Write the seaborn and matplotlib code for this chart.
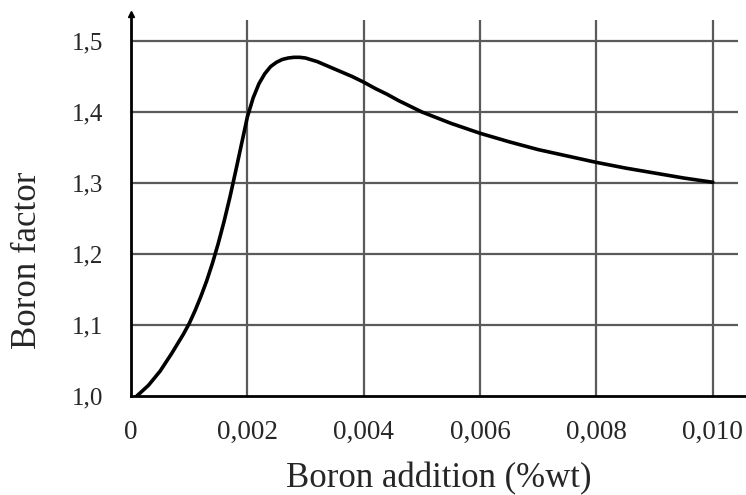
import matplotlib
matplotlib.use("Agg")
import matplotlib.pyplot as plt
import seaborn as sns

# Curve (boron addition in %wt vs boron factor)
boron_pct = [0.0001, 0.0003, 0.0005, 0.0007, 0.0009, 0.0010, 0.0011, 0.0012,
             0.0013, 0.0014, 0.0015, 0.0016, 0.0017, 0.0018, 0.0019, 0.0020,
             0.0021, 0.0022, 0.0023, 0.0024, 0.0025, 0.0026, 0.0027, 0.0028,
             0.0029, 0.0030, 0.0032, 0.0034, 0.0036, 0.0038, 0.0040, 0.0042,
             0.0044, 0.0046, 0.0048, 0.0050, 0.0055, 0.0060, 0.0065, 0.0070,
             0.0075, 0.0080, 0.0085, 0.0090, 0.0095, 0.0100]
boron_factor = [1.000, 1.015, 1.035, 1.060, 1.087, 1.102, 1.120, 1.140,
                1.162, 1.187, 1.215, 1.246, 1.280, 1.317, 1.355, 1.393,
                1.420, 1.440, 1.454, 1.464, 1.470, 1.474, 1.476, 1.477,
                1.477, 1.476, 1.471, 1.464, 1.457, 1.450, 1.442, 1.433,
                1.425, 1.416, 1.408, 1.400, 1.384, 1.370, 1.358, 1.347,
                1.338, 1.329, 1.321, 1.314, 1.307, 1.301]

x_ticks = [0, 0.002, 0.004, 0.006, 0.008, 0.010]
x_tick_labels = ["0", "0,002", "0,004", "0,006", "0,008", "0,010"]
y_ticks = [1.0, 1.1, 1.2, 1.3, 1.4, 1.5]
y_tick_labels = ["1,0", "1,1", "1,2", "1,3", "1,4", "1,5"]

sns.set_style("white")
plt.rcParams["font.family"] = ["Liberation Serif", "DejaVu Serif"]

fig = plt.figure(figsize=(7.46, 4.95), dpi=100)
ax = fig.add_axes([0.1756, 0.2, 0.8244, 0.7717])

x_max = 0.01057
y_max = 1.538
ax.set_xlim(0, x_max)
ax.set_ylim(1.0, y_max)

# grid drawn by hand so it stops short of the axis ends like the original
grid_col = "#5a5a5a"
ax.hlines(y_ticks[1:], 0, 0.01043, color=grid_col, lw=1.6, zorder=1)
ax.vlines(x_ticks[1:], 1.0, 1.5296, color=grid_col, lw=1.6, zorder=1)

sns.lineplot(x=boron_pct, y=boron_factor, color="black", lw=2.6, ax=ax,
             zorder=3, sort=False)

ax.set_xticks(x_ticks)
ax.set_xticklabels(x_tick_labels, fontsize=19.5)
ax.set_yticks(y_ticks)
ax.set_yticklabels(y_tick_labels, fontsize=18)
ax.tick_params(axis="x", length=0, pad=17.5)
ax.tick_params(axis="y", length=0, pad=20)

for side in ["top", "right"]:
    ax.spines[side].set_visible(False)
for side in ["left", "bottom"]:
    ax.spines[side].set_color("black")
    ax.spines[side].set_linewidth(2.0)
    ax.spines[side].set_zorder(4)

# little arrow head on top of the y axis
ax.plot(0, 1, marker="^", color="black", ms=5, transform=ax.transAxes,
        clip_on=False, zorder=5)

ax.set_xlabel("Boron addition (%wt)", fontsize=25, labelpad=12)
ax.set_ylabel("Boron factor", fontsize=25)
ax.yaxis.set_label_coords(-0.141, 0.356)

fig.savefig("out.png", dpi=100)
